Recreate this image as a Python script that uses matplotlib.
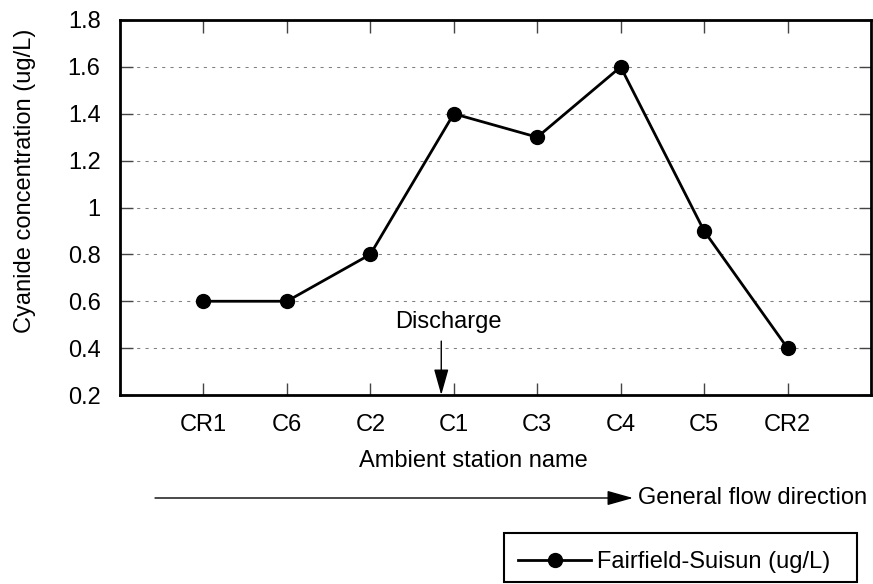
"""Cyanide concentration along the ambient stations."""

import matplotlib.pyplot as plt
from matplotlib.patches import Rectangle

plt.rcParams["font.family"] = ["Liberation Sans", "DejaVu Sans"]

stations = ["CR1", "C6", "C2", "C1", "C3", "C4", "C5", "CR2"]
cyanide = [0.6, 0.6, 0.8, 1.4, 1.3, 1.6, 0.9, 0.4]
y_ticks = [0.2, 0.4, 0.6, 0.8, 1.0, 1.2, 1.4, 1.6, 1.8]
y_labels = ["0.2", "0.4", "0.6", "0.8", "1", "1.2", "1.4", "1.6", "1.8"]
discharge_x = 3.85  # between C2 and C1

FS = 17
W, H = 873, 584

fig = plt.figure(figsize=(W / 100, H / 100), dpi=100)
ax = fig.add_axes([120 / W, 1 - 395 / H, 751 / W, 375 / H])

x = list(range(1, len(stations) + 1))
ax.plot(x, cyanide, color="black", lw=2, marker="o", markersize=10,
        label="Fairfield-Suisun (ug/L)", zorder=3)

ax.set_xlim(0, len(stations) + 1)
ax.set_ylim(0.2, 1.8)
ax.set_xticks(x)
ax.set_xticklabels(stations, fontsize=FS)
ax.set_yticks(y_ticks)
ax.set_yticklabels(y_labels, fontsize=FS)

# dotted grid, no line on the spines
for yv in y_ticks[1:-1]:
    ax.axhline(yv, color="#808080", lw=0.75, ls=(0, (3, 5)), zorder=1)

for s in ax.spines.values():
    s.set_linewidth(2)

ax.tick_params(axis="x", direction="in", length=9, width=1, color="#444444",
               top=True, bottom=True, pad=14)
ax.tick_params(axis="y", direction="in", length=9, width=1, color="#444444",
               left=True, right=True, pad=14)

ax.set_ylabel("Cyanide concentration (ug/L)", fontsize=FS)
ax.yaxis.set_label_coords(-0.112, 0.571)
ax.set_xlabel("Ambient station name", fontsize=FS)
ax.xaxis.set_label_coords(0.47, -0.147)

head = "-|>,head_length=1.6,head_width=0.45"

# discharge marker
ax.annotate("", xy=(discharge_x, 0.2), xytext=(discharge_x, 0.43),
            arrowprops=dict(arrowstyle=head, color="black", lw=1,
                            shrinkA=0, shrinkB=0))
ax.text(3.94, 0.511, "Discharge", fontsize=FS, ha="center", va="center")

# general flow direction
ax.annotate("", xy=(633 / W, 1 - 498 / H), xytext=(155 / W, 1 - 498 / H),
            xycoords="figure fraction", textcoords="figure fraction",
            arrowprops=dict(arrowstyle=head, color="black", lw=1,
                            shrinkA=0, shrinkB=0))
fig.text(638 / W, 1 - 498 / H, "General flow direction", fontsize=FS,
         ha="left", va="center")

# legend, box drawn separately to match the original frame
fig.legend(loc="center left", bbox_to_anchor=(518 / W, 1 - 562 / H),
           fontsize=FS, frameon=False, handlelength=3.1, handletextpad=0.25,
           borderaxespad=0, borderpad=0)
fig.add_artist(Rectangle((504 / W, 1 - 582 / H), 353 / W, 49 / H,
                         transform=fig.transFigure, fill=False,
                         edgecolor="black", lw=1.5))

plt.savefig("out.png", dpi=100)
